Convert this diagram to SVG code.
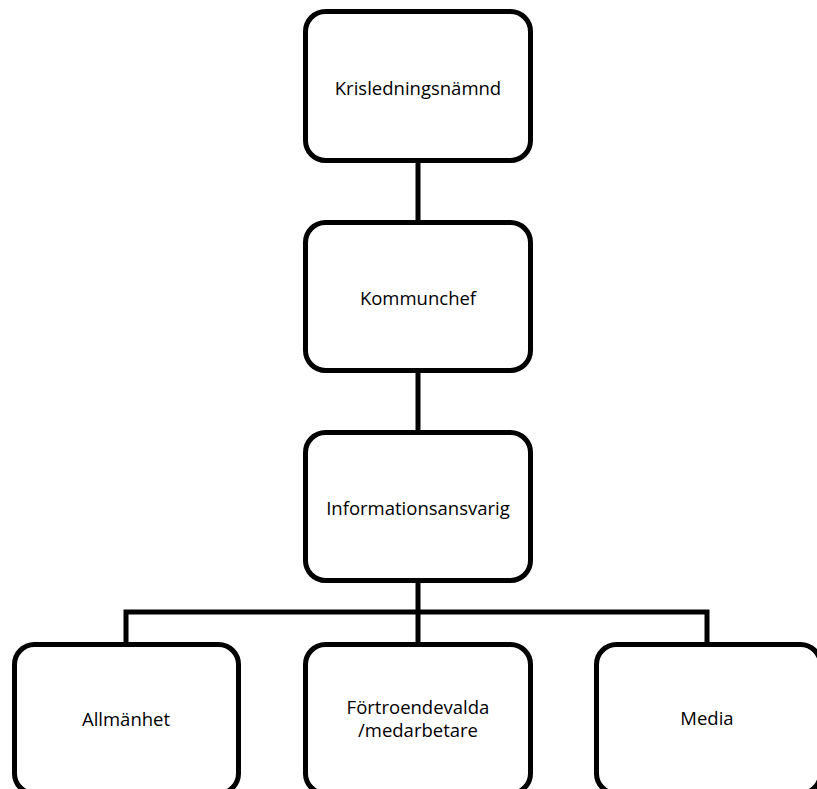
<svg xmlns="http://www.w3.org/2000/svg" width="817" height="789" viewBox="0 0 817 789">
  <style>
    .box { fill: #ffffff; stroke: #000000; stroke-width: 5; }
    .conn { fill: none; stroke: #000000; stroke-width: 5; stroke-linejoin: miter; }
    .lbl { font-family: "Open Sans", "Liberation Sans", sans-serif; font-size: 18.5px; fill: #000000; text-anchor: middle; dominant-baseline: central; }
  </style>
  <rect width="817" height="789" fill="#ffffff"/>
  <g id="connectors">
    <line class="conn" x1="418" y1="160" x2="418" y2="223"/>
    <line class="conn" x1="418" y1="370" x2="418" y2="433"/>
    <line class="conn" x1="418" y1="580" x2="418" y2="645"/>
    <polyline class="conn" points="126,645 126,612 707,612 707,645"/>
  </g>
  <g id="node-krisledningsnamnd">
    <rect class="box" x="305.5" y="11.5" width="225" height="149" rx="20"/>
    <text class="lbl" x="418" y="87">Krisledningsnämnd</text>
  </g>
  <g id="node-kommunchef">
    <rect class="box" x="305.5" y="222.5" width="225" height="148" rx="20"/>
    <text class="lbl" x="418" y="297">Kommunchef</text>
  </g>
  <g id="node-informationsansvarig">
    <rect class="box" x="305.5" y="432.5" width="225" height="148" rx="20"/>
    <text class="lbl" x="418" y="507">Informationsansvarig</text>
  </g>
  <g id="node-allmanhet">
    <rect class="box" x="14.5" y="644.5" width="224" height="149" rx="20"/>
    <text class="lbl" x="126" y="718">Allmänhet</text>
  </g>
  <g id="node-fortroendevalda">
    <rect class="box" x="305.5" y="644.5" width="225" height="149" rx="20"/>
    <text class="lbl" x="418" y="706">Förtroendevalda</text>
    <text class="lbl" x="418" y="729">/medarbetare</text>
  </g>
  <g id="node-media">
    <rect class="box" x="596.5" y="644.5" width="224" height="149" rx="20"/>
    <text class="lbl" x="707" y="717">Media</text>
  </g>
</svg>
